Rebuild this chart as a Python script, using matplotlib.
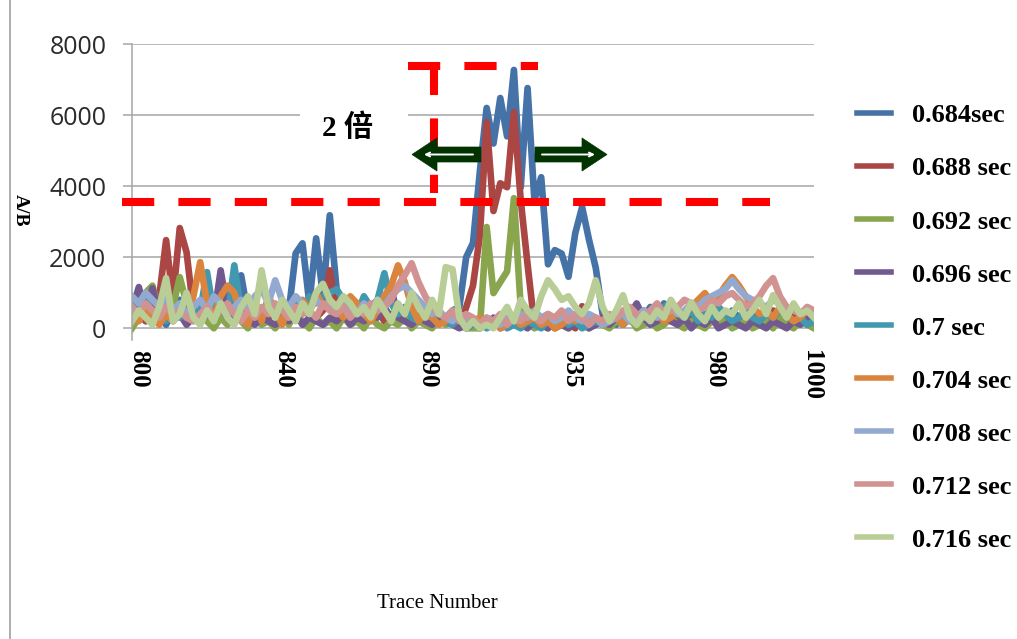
import numpy as np
import matplotlib.pyplot as plt
from matplotlib.patches import Polygon, Rectangle, FancyArrowPatch
from matplotlib.lines import Line2D

# trace numbers (every 2nd trace) and A/B values for each time slice
traces = np.arange(800, 1001, 2)

s684 = [300, 600, 200, 900, 400, 100, 500, 800, 300, 600,
        200, 400, 700, 300, 900, 600, 1490, 400, 200, 500,
        300, 600, 400, 500, 2110, 2390, 700, 2530, 900, 3180,
        1100, 600, 400, 300, 500, 200, 400, 600, 300, 500,
        200, 400, 300, 600, 400, 200, 300, 500, 600, 2000,
        2400, 4400, 6200, 5200, 6480, 5400, 7270, 3970, 6760, 3610,
        4250, 1800, 2200, 2100, 1450, 2680, 3410, 2500, 1700, 400,
        300, 100, 400, 200, 500, 300, 600, 200, 700, 300,
        100, 400, 200, 500, 300, 600, 400, 200, 500, 300,
        400, 200, 300, 500, 200, 400, 300, 100, 400, 200,
        300]
s688 = [300, 600, 200, 500, 900, 2480, 800, 2820, 2140, 500,
        200, 400, 300, 600, 200, 400, 300, 500, 200, 400,
        300, 500, 200, 400, 300, 600, 400, 300, 500, 1630,
        400, 300, 500, 200, 400, 300, 500, 200, 400, 300,
        500, 300, 200, 400, 300, 500, 200, 300, 100, 590,
        1200, 2600, 5800, 3300, 4080, 3970, 6080, 3600, 1800, 100,
        300, 200, 0, 100, 300, 0, 620, 200, 100, 300,
        200, 400, 100, 300, 200, 500, 300, 100, 400, 200,
        300, 100, 400, 200, 300, 500, 200, 400, 100, 300,
        200, 400, 300, 100, 500, 200, 300, 400, 200, 300,
        200]
s692 = [0, 300, 1000, 1200, 400, 1000, 600, 1440, 700, 200,
        400, 200, 0, 300, 100, 400, 200, 0, 300, 100,
        200, 0, 300, 100, 400, 200, 0, 300, 100, 200,
        0, 300, 100, 200, 0, 300, 100, 0, 200, 100,
        300, 0, 200, 100, 0, 300, 100, 200, 100, 0,
        0, 0, 2850, 990, 1300, 1600, 3660, 590, 200, 0,
        100, 0, 200, 100, 0, 300, 100, 0, 200, 100,
        0, 200, 100, 300, 0, 100, 200, 0, 100, 300,
        100, 0, 200, 100, 0, 200, 100, 300, 0, 100,
        200, 0, 100, 200, 0, 300, 100, 0, 200, 100,
        0]
s696 = [500, 1160, 400, 1130, 300, 600, 200, 400, 100, 300,
        200, 400, 300, 1630, 500, 200, 400, 300, 100, 300,
        200, 100, 300, 200, 400, 100, 300, 200, 100, 300,
        200, 400, 100, 300, 200, 400, 300, 600, 1150, 300,
        200, 100, 300, 200, 100, 300, 200, 100, 0, 100,
        200, 0, 100, 300, 0, 100, 300, 100, 0, 200,
        100, 0, 200, 100, 0, 100, 200, 0, 100, 200,
        100, 300, 200, 400, 700, 300, 100, 200, 400, 200,
        100, 300, 0, 200, 100, 300, 0, 100, 200, 100,
        0, 200, 100, 0, 200, 100, 0, 200, 100, 300,
        200]
s700 = [700, 400, 900, 300, 600, 200, 500, 300, 700, 400,
        500, 1580, 400, 600, 300, 1770, 500, 200, 600, 300,
        700, 400, 600, 300, 800, 500, 900, 700, 900, 1000,
        1100, 800, 700, 400, 900, 600, 800, 1550, 700, 400,
        600, 300, 200, 400, 300, 500, 200, 100, 300, 0,
        100, 200, 0, 100, 200, 0, 100, 0, 200, 100,
        0, 200, 100, 300, 100, 200, 0, 100, 200, 100,
        200, 300, 100, 400, 200, 300, 500, 400, 600, 730,
        400, 300, 500, 200, 400, 300, 600, 400, 200, 300,
        500, 300, 200, 400, 300, 500, 400, 200, 300, 100,
        200]
s704 = [400, 200, 500, 300, 100, 400, 200, 600, 300, 900,
        1860, 700, 300, 900, 1200, 1000, 300, 100, 700, 200,
        900, 500, 100, 600, 300, 800, 500, 1000, 600, 800,
        500, 300, 900, 700, 400, 200, 500, 900, 1200, 1770,
        1300, 600, 200, 400, 300, 100, 200, 400, 300, 100,
        200, 300, 100, 200, 0, 100, 300, 100, 200, 300,
        100, 200, 0, 100, 300, 200, 400, 200, 300, 100,
        200, 300, 100, 400, 200, 500, 300, 400, 200, 300,
        500, 400, 600, 800, 990, 700, 900, 1200, 1440, 1200,
        900, 600, 400, 500, 300, 600, 400, 200, 300, 500,
        300]
s708 = [900, 700, 1000, 800, 600, 900, 500, 700, 400, 600,
        800, 500, 900, 700, 400, 600, 800, 500, 900, 1100,
        700, 1350, 800, 600, 900, 700, 500, 800, 600, 700,
        500, 800, 600, 400, 700, 500, 800, 600, 900, 1100,
        1200, 1000, 800, 600, 400, 500, 300, 200, 400, 300,
        200, 100, 300, 200, 100, 300, 200, 400, 300, 500,
        300, 400, 200, 300, 500, 300, 200, 400, 300, 100,
        200, 300, 400, 200, 300, 500, 400, 300, 500, 600,
        400, 500, 700, 600, 800, 900, 1000, 1100, 1350, 1100,
        900, 800, 700, 600, 800, 700, 500, 600, 400, 500,
        400]
s712 = [600, 400, 700, 500, 300, 600, 400, 500, 300, 200,
        400, 600, 300, 500, 700, 400, 200, 500, 300, 600,
        400, 700, 500, 300, 600, 400, 500, 300, 700, 500,
        400, 600, 300, 500, 400, 700, 500, 600, 800, 1200,
        1500, 1830, 1300, 900, 600, 400, 300, 500, 200, 400,
        300, 100, 300, 200, 400, 100, 300, 200, 400, 300,
        200, 400, 300, 500, 200, 400, 300, 100, 300, 200,
        400, 300, 500, 600, 400, 300, 500, 700, 400, 500,
        600, 800, 700, 500, 600, 800, 700, 900, 990, 800,
        600, 700, 900, 1200, 1410, 900, 600, 500, 400, 600,
        500]
s716 = [200, 500, 300, 100, 600, 1410, 200, 400, 1000, 300,
        100, 500, 200, 700, 300, 100, 600, 900, 400, 1630,
        600, 300, 800, 500, 200, 700, 400, 1000, 1250, 800,
        600, 900, 700, 400, 600, 300, 800, 500, 200, 700,
        400, 1000, 600, 300, 800, 400, 1720, 1660, 300, 0,
        200, 0, 100, 0, 300, 600, 200, 800, 500, 300,
        900, 1350, 1100, 800, 900, 600, 400, 700, 1350, 600,
        200, 500, 930, 300, 100, 400, 200, 500, 300, 800,
        500, 300, 730, 400, 200, 600, 300, 500, 400, 700,
        300, 500, 800, 400, 930, 600, 300, 700, 400, 500,
        300]

series = [s684, s688, s692, s696, s700, s704, s708, s712, s716]
names = ['0.684sec', '0.688 sec', '0.692 sec', '0.696 sec', '0.7 sec',
         '0.704 sec', '0.708 sec', '0.712 sec', '0.716 sec']
colors = ['#4572A7', '#AA4643', '#89A54E', '#71588F', '#4198AF',
          '#DB843D', '#93A9CF', '#D19392', '#B9CD96']

tick_labels = ['800', '840', '890', '935', '980', '1000']
tick_idx = [1, 22.3, 43.4, 64.5, 85.5, 99.6]

threshold = 3550   # half of the peak level
box_top = 7380

W, H = 1017, 639
fig = plt.figure(figsize=(W / 100, H / 100), dpi=100)
ax = fig.add_axes([132 / W, 1 - 340 / H, (814 - 132) / W, (340 - 44) / H])


def px(x, y):
    # pixel position (from top-left) -> figure fraction
    return (x / W, 1 - y / H)


x = np.arange(len(traces))
for vals, name, c in zip(series, names, colors):
    ax.plot(x, vals, color=c, lw=4.8, label=name, solid_joinstyle='round')

ax.set_xlim(0, len(traces) - 1)
ax.set_ylim(-330, 8000)
ax.set_yticks(range(0, 8001, 2000))
ax.set_xticks(tick_idx)
ax.set_xticklabels(tick_labels)
ax.yaxis.grid(True, color='#A6A6A6', lw=1.1)
ax.set_axisbelow(True)
for s in ['top', 'right', 'bottom']:
    ax.spines[s].set_visible(False)
ax.spines['left'].set_color('#A6A6A6')
ax.spines['left'].set_linewidth(1.1)
ax.tick_params(axis='y', length=6.5, width=1.1, color='#A6A6A6', pad=12,
               labelsize=18, labelcolor='#2b2b2b')
ax.tick_params(axis='x', length=0, pad=7)
for t in ax.get_yticklabels():
    t.set_fontfamily('Open Sans')
for t in ax.get_xticklabels():
    t.set_rotation(270)
    t.set_ha('center')
    t.set_va('top')
    t.set_fontfamily('Liberation Serif')
    t.set_fontweight('bold')
    t.set_fontsize(18)

# red dashed guide lines
ax.plot([-1.47, 93.5], [threshold, threshold], color='red', lw=5.8,
        ls=(0, (4, 3)), clip_on=False, zorder=5)
ax.plot([40.5, 59.5], [box_top, box_top], color='red', lw=5.8,
        ls=(0, (4, 3)), clip_on=False, zorder=5)
ax.plot([44.3, 44.3], [7490, 3800], color='red', lw=5.8,
        ls=(0, (4.1, 2.9)), clip_on=False, zorder=5)

# white box behind the "2 倍" note
fig.add_artist(Rectangle(px(300, 160), 108 / W, 68 / H, transform=fig.transFigure,
                         fc='white', ec='none', zorder=1))
fig.text(*px(322, 128), '2 倍', family=['Liberation Serif', 'Noto Sans CJK SC'],
         weight='bold', size=21, va='center', ha='left', zorder=2)

# green double arrows
dk = '#003300'
left_arrow = [px(412, 154.5), px(437, 138), px(437, 147), px(481, 147),
              px(481, 162), px(437, 162), px(437, 171)]
right_arrow = [px(607, 154.5), px(582, 138), px(582, 147), px(535, 147),
               px(535, 162), px(582, 162), px(582, 171)]
for poly in [left_arrow, right_arrow]:
    fig.add_artist(Polygon(poly, closed=True, transform=fig.transFigure,
                           fc=dk, ec=dk, lw=0.5, zorder=3))
for a, b in [((473, 154.5), (424, 154.5)), ((542, 154.5), (595, 154.5))]:
    fig.add_artist(FancyArrowPatch(px(*a), px(*b), transform=fig.transFigure,
                                   arrowstyle='->', mutation_scale=7, color='white',
                                   lw=1.4, shrinkA=0, shrinkB=0, zorder=4))

# legend
leg = ax.legend(loc='upper left', bbox_to_anchor=px(857, 104), bbox_transform=fig.transFigure,
                frameon=False, prop={'family': 'Liberation Serif', 'weight': 'bold', 'size': 19},
                handlelength=1.3, handletextpad=0.8, labelspacing=1.12, borderpad=0,
                borderaxespad=0)
for h in leg.get_lines():
    h.set_linewidth(4.0)

# axis titles
fig.text(*px(20, 210), 'A/B', rotation=270, ha='center', va='center',
         family='Liberation Serif', weight='bold', size=14)
fig.text(*px(437, 604), 'Trace Number', ha='center', va='center',
         family='Liberation Serif', size=15)

# left frame line
fig.add_artist(Line2D([10 / W, 10 / W], [0, 1], color='#A0A0A0', lw=1.2,
                      transform=fig.transFigure))

fig.savefig('out.png', dpi=100)
